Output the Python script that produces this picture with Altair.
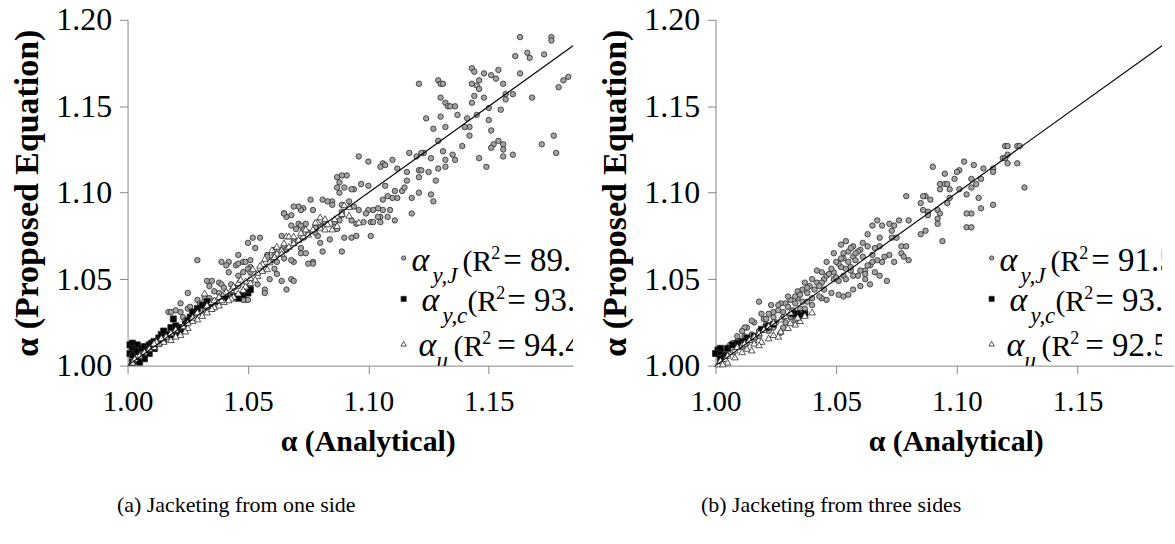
import altair as alt
import pandas as pd

# ---------------- data ----------------
# Panel (a): jacketing from one side
a_circ_x = [
    1.163, 1.176, 1.176, 1.161, 1.166, 1.167, 1.173, 1.163, 1.143, 1.144,
    1.148, 1.151, 1.154, 1.153, 1.156, 1.143, 1.146, 1.145, 1.146, 1.144,
    1.148, 1.121, 1.129, 1.130, 1.131, 1.130, 1.132, 1.133, 1.134, 1.136,
    1.143, 1.150, 1.155, 1.157, 1.157, 1.160, 1.168, 1.183, 1.181, 1.179,
    1.124, 1.130, 1.137, 1.141, 1.142, 1.145, 1.150, 1.140, 1.127, 1.132,
    1.151, 1.142, 1.129, 1.139, 1.154, 1.152, 1.156, 1.156, 1.151, 1.172,
    1.177, 1.178, 1.146, 1.149, 1.156, 1.160, 1.131, 1.135, 1.136, 1.132,
    1.129, 1.132, 1.126, 1.123, 1.122, 1.120, 1.117, 1.116, 1.112, 1.121,
    1.122, 1.125, 1.121, 1.116, 1.128, 1.118, 1.121, 1.126, 1.127, 1.118,
    1.110, 1.106, 1.105, 1.107, 1.100, 1.096, 1.107, 1.111, 1.114, 1.115,
    1.112, 1.110, 1.108, 1.106, 1.109, 1.106, 1.104, 1.102, 1.100, 1.105,
    1.108, 1.105, 1.111, 1.097, 1.100, 1.094, 1.093, 1.090, 1.091, 1.089,
    1.087, 1.088, 1.087, 1.088, 1.085, 1.083, 1.081, 1.085, 1.076, 1.077,
    1.073, 1.072, 1.071, 1.069, 1.065, 1.066, 1.065, 1.068, 1.071, 1.073,
    1.075, 1.068, 1.072, 1.074, 1.078, 1.080, 1.082, 1.086, 1.086, 1.089,
    1.089, 1.089, 1.092, 1.094, 1.096, 1.099, 1.101, 1.098, 1.104, 1.102,
    1.095, 1.093, 1.088, 1.087, 1.090, 1.093, 1.095, 1.101, 1.089, 1.081,
    1.084, 1.080, 1.079, 1.078, 1.073, 1.070, 1.064, 1.061, 1.061, 1.058,
    1.058, 1.064, 1.065, 1.066, 1.069, 1.072, 1.072, 1.074, 1.077, 1.077,
    1.075, 1.069, 1.068, 1.065, 1.062, 1.060, 1.061, 1.062, 1.064, 1.068,
    1.069, 1.066, 1.059, 1.057, 1.057, 1.054, 1.052, 1.055, 1.050, 1.053,
    1.046, 1.039, 1.042, 1.041, 1.045, 1.046, 1.048, 1.049, 1.051, 1.051,
    1.029, 1.050, 1.051, 1.046, 1.048, 1.042, 1.033, 1.035, 1.034, 1.036,
    1.038, 1.039, 1.040, 1.044, 1.046, 1.043, 1.047, 1.049, 1.050, 1.048,
    1.041, 1.039, 1.038, 1.032, 1.034, 1.029, 1.030, 1.025, 1.022, 1.025,
    1.026, 1.017, 1.018, 1.020, 1.022, 1.023, 1.032, 1.035,
    1.010, 1.013, 1.016, 1.020, 1.024, 1.027, 1.006,
]
a_circ_y = [
    1.190, 1.190, 1.188, 1.179, 1.181, 1.178, 1.180, 1.169, 1.172, 1.170,
    1.169, 1.168, 1.171, 1.166, 1.163, 1.163, 1.165, 1.162, 1.160, 1.156,
    1.155, 1.163, 1.165, 1.163, 1.163, 1.155, 1.152, 1.150, 1.150, 1.150,
    1.152, 1.149, 1.148, 1.157, 1.154, 1.157, 1.155, 1.167, 1.165, 1.161,
    1.143, 1.144, 1.145, 1.143, 1.138, 1.145, 1.142, 1.138, 1.137, 1.138,
    1.136, 1.133, 1.130, 1.127, 1.130, 1.128, 1.128, 1.125, 1.126, 1.128,
    1.133, 1.123, 1.120, 1.115, 1.121, 1.122, 1.124, 1.122, 1.119, 1.119,
    1.114, 1.115, 1.120, 1.123, 1.123, 1.121, 1.123, 1.112, 1.114, 1.113,
    1.113, 1.112, 1.109, 1.107, 1.107, 1.097, 1.100, 1.099, 1.095, 1.088,
    1.119, 1.117, 1.115, 1.116, 1.118, 1.121, 1.104, 1.101, 1.101, 1.103,
    1.097, 1.097, 1.098, 1.096, 1.090, 1.090, 1.091, 1.090, 1.090, 1.086,
    1.086, 1.083, 1.084, 1.105, 1.104, 1.102, 1.102, 1.103, 1.110, 1.110,
    1.109, 1.106, 1.103, 1.100, 1.095, 1.095, 1.096, 1.093, 1.096, 1.090,
    1.091, 1.090, 1.092, 1.092, 1.088, 1.086, 1.088, 1.087, 1.082, 1.079,
    1.077, 1.081, 1.081, 1.082, 1.080, 1.081, 1.083, 1.081, 1.083, 1.087,
    1.089, 1.093, 1.095, 1.092, 1.090, 1.088, 1.083, 1.083, 1.086, 1.083,
    1.082, 1.084, 1.084, 1.079, 1.074, 1.074, 1.075, 1.075, 1.066, 1.066,
    1.073, 1.071, 1.075, 1.077, 1.074, 1.079, 1.075, 1.067, 1.064, 1.064,
    1.063, 1.067, 1.069, 1.067, 1.072, 1.068, 1.065, 1.065, 1.060, 1.059,
    1.059, 1.060, 1.061, 1.062, 1.060, 1.061, 1.056, 1.053, 1.049, 1.050,
    1.049, 1.044, 1.050, 1.044, 1.042, 1.047, 1.074, 1.074, 1.071, 1.068,
    1.064, 1.060, 1.060, 1.058, 1.058, 1.059, 1.060, 1.060, 1.061, 1.057,
    1.061, 1.056, 1.054, 1.052, 1.054, 1.054, 1.049, 1.049, 1.046, 1.043,
    1.048, 1.047, 1.045, 1.045, 1.046, 1.047, 1.040, 1.038, 1.038, 1.038,
    1.041, 1.039, 1.042, 1.039, 1.039, 1.038, 1.036, 1.042, 1.036, 1.033,
    1.034, 1.031, 1.031, 1.032, 1.031, 1.028, 1.032, 1.034,
    1.010, 1.014, 1.018, 1.022, 1.026, 1.030, 1.006,
]
a_sq_x = [
    1.001, 1.002, 1.004, 1.002, 1.003, 1.001, 1.002, 1.004, 1.006, 1.007,
    1.009, 1.010, 1.008, 1.006, 1.004, 1.002, 1.011, 1.013, 1.014, 1.015,
    1.018, 1.019, 1.017, 1.015, 1.013, 1.011, 1.009, 1.020, 1.022, 1.024,
    1.026, 1.027, 1.029, 1.031, 1.033, 1.035, 1.037, 1.039, 1.041, 1.044,
    1.046, 1.048, 1.050, 1.051, 1.025, 1.022, 1.020, 1.018, 1.007, 1.005, 1.011,
]
a_sq_y = [
    1.012, 1.013, 1.012, 1.010, 1.009, 1.007, 1.006, 1.008, 1.010, 1.011,
    1.012, 1.013, 1.008, 1.005, 1.003, 1.002, 1.014, 1.016, 1.018, 1.020,
    1.022, 1.027, 1.018, 1.015, 1.013, 1.010, 1.007, 1.023, 1.020, 1.024,
    1.028, 1.031, 1.033, 1.035, 1.037, 1.034, 1.037, 1.039, 1.039, 1.040,
    1.039, 1.041, 1.042, 1.044, 1.026, 1.022, 1.019, 1.017, 1.004, 1.002, 1.010,
]
a_tri_x = [
    1.090, 1.092, 1.092, 1.096, 1.089, 1.087, 1.085, 1.083, 1.080, 1.079,
    1.080, 1.082, 1.077, 1.075, 1.073, 1.071, 1.069, 1.067, 1.066, 1.065,
    1.064, 1.062, 1.061, 1.059, 1.057, 1.056, 1.054, 1.053, 1.051, 1.049,
    1.048, 1.046, 1.044, 1.043, 1.042, 1.040, 1.038, 1.036, 1.035, 1.033,
    1.032, 1.031, 1.029, 1.027, 1.025, 1.024, 1.022, 1.020, 1.018, 1.015,
    1.013, 1.011, 1.009, 1.007, 1.005, 1.003, 1.002,
    1.067, 1.064, 1.058, 1.056, 1.054, 1.051, 1.049, 1.046, 1.043, 1.040,
    1.039, 1.037, 1.035, 1.033, 1.029, 1.027, 1.025, 1.023, 1.020, 1.018,
    1.016, 1.014, 1.012, 1.011,
    1.072, 1.074, 1.078, 1.082, 1.086, 1.069, 1.062, 1.060, 1.057, 1.055,
    1.052, 1.047, 1.044, 1.041, 1.038, 1.036,
]
a_tri_y = [
    1.093, 1.092, 1.087, 1.083, 1.088, 1.081, 1.079, 1.082, 1.086, 1.083,
    1.080, 1.079, 1.079, 1.076, 1.075, 1.073, 1.071, 1.069, 1.075, 1.071,
    1.067, 1.065, 1.063, 1.060, 1.057, 1.055, 1.052, 1.050, 1.048, 1.046,
    1.044, 1.042, 1.040, 1.039, 1.038, 1.037, 1.035, 1.034, 1.033, 1.031,
    1.042, 1.029, 1.027, 1.026, 1.022, 1.020, 1.018, 1.017, 1.015, 1.014,
    1.013, 1.011, 1.010, 1.008, 1.006, 1.004, 1.002,
    1.075, 1.065, 1.056, 1.059, 1.054, 1.051, 1.049, 1.048, 1.044, 1.042,
    1.038, 1.038, 1.037, 1.035, 1.031, 1.028, 1.025, 1.023, 1.021, 1.019,
    1.017, 1.016, 1.014, 1.013,
    1.077, 1.079, 1.083, 1.085, 1.085, 1.075, 1.069, 1.067, 1.062, 1.058,
    1.056, 1.050, 1.046, 1.043, 1.040, 1.038,
]

# Panel (b): jacketing from three sides
b_circ_x = [
    1.120, 1.121, 1.125, 1.126, 1.119, 1.120, 1.121, 1.121, 1.125, 1.128,
    1.115, 1.115, 1.111, 1.107, 1.103, 1.101, 1.100, 1.099, 1.095, 1.090,
    1.093, 1.095, 1.096, 1.093, 1.097, 1.101, 1.106, 1.106, 1.104, 1.108,
    1.110, 1.109, 1.110, 1.115, 1.106, 1.104, 1.104, 1.106, 1.097, 1.096,
    1.092, 1.093, 1.092, 1.092, 1.094, 1.088, 1.089, 1.087, 1.086, 1.085,
    1.086, 1.088, 1.087, 1.085, 1.079, 1.080, 1.076, 1.074, 1.072, 1.073,
    1.069, 1.067, 1.065, 1.063, 1.068, 1.068, 1.066, 1.073, 1.075, 1.077,
    1.079, 1.077, 1.078, 1.080, 1.074, 1.072, 1.070, 1.069, 1.067, 1.065,
    1.063, 1.060, 1.059, 1.057, 1.055, 1.053, 1.053, 1.057, 1.061, 1.064,
    1.062, 1.062, 1.064, 1.059, 1.056, 1.054, 1.052, 1.053, 1.051, 1.049,
    1.049, 1.049, 1.051, 1.046, 1.045, 1.044, 1.042, 1.042, 1.044, 1.046,
    1.041, 1.039, 1.038, 1.037, 1.036, 1.036, 1.034, 1.034, 1.033, 1.032,
    1.031, 1.030, 1.029, 1.028, 1.027, 1.026, 1.024, 1.023, 1.022, 1.019,
    1.018, 1.020, 1.016, 1.015, 1.013, 1.012, 1.011, 1.012, 1.009, 1.009,
    1.007, 1.006, 1.005, 1.003, 1.002, 1.015, 1.018, 1.021, 1.023, 1.025,
    1.027, 1.028, 1.031, 1.033, 1.035, 1.038, 1.040, 1.044, 1.046, 1.048,
    1.051, 1.053, 1.055, 1.057, 1.060, 1.062, 1.066, 1.068, 1.071, 1.045,
    1.043, 1.040, 1.037, 1.033, 1.029, 1.028, 1.024, 1.022, 1.018, 1.016,
    1.013, 1.011,
    1.050, 1.052, 1.055, 1.058, 1.056, 1.048, 1.047, 1.050, 1.054, 1.057,
    1.060, 1.063, 1.065, 1.058, 1.061, 1.054, 1.052, 1.056, 1.043, 1.040,
    1.038, 1.035, 1.033, 1.030, 1.026, 1.024, 1.021,
]
b_circ_y = [
    1.127, 1.127, 1.127, 1.127, 1.120, 1.120, 1.122, 1.117, 1.117, 1.103,
    1.114, 1.112, 1.114, 1.116, 1.118, 1.113, 1.112, 1.108, 1.111, 1.115,
    1.105, 1.105, 1.105, 1.102, 1.102, 1.102, 1.108, 1.103, 1.099, 1.105,
    1.108, 1.097, 1.091, 1.093, 1.088, 1.088, 1.080, 1.080, 1.097, 1.094,
    1.090, 1.088, 1.085, 1.082, 1.072, 1.089, 1.096, 1.098, 1.098, 1.094,
    1.090, 1.087, 1.078, 1.076, 1.098, 1.084, 1.084, 1.081, 1.082, 1.078,
    1.081, 1.084, 1.081, 1.076, 1.074, 1.069, 1.068, 1.074, 1.074, 1.069,
    1.069, 1.065, 1.063, 1.061, 1.060, 1.064, 1.063, 1.060, 1.061, 1.064,
    1.069, 1.067, 1.066, 1.069, 1.066, 1.065, 1.062, 1.063, 1.063, 1.058,
    1.055, 1.050, 1.047, 1.052, 1.055, 1.056, 1.057, 1.052, 1.049, 1.050,
    1.054, 1.065, 1.059, 1.060, 1.050, 1.054, 1.055, 1.048, 1.048, 1.052,
    1.044, 1.046, 1.042, 1.048, 1.044, 1.037, 1.043, 1.039, 1.036, 1.032,
    1.038, 1.040, 1.036, 1.031, 1.036, 1.035, 1.031, 1.035, 1.030, 1.030,
    1.037, 1.027, 1.025, 1.026, 1.022, 1.022, 1.020, 1.017, 1.017, 1.014,
    1.013, 1.012, 1.010, 1.008, 1.005, 1.018, 1.020, 1.024, 1.022, 1.025,
    1.019, 1.022, 1.028, 1.029, 1.033, 1.037, 1.039, 1.039, 1.038, 1.042,
    1.041, 1.040, 1.041, 1.044, 1.046, 1.053, 1.054, 1.052, 1.049, 1.044,
    1.040, 1.035, 1.033, 1.026, 1.025, 1.028, 1.022, 1.020, 1.017, 1.014,
    1.013, 1.011,
    1.060, 1.062, 1.060, 1.061, 1.057, 1.056, 1.053, 1.051, 1.050, 1.052,
    1.055, 1.058, 1.060, 1.065, 1.071, 1.072, 1.070, 1.068, 1.046, 1.050,
    1.045, 1.041, 1.040, 1.034, 1.032, 1.028, 1.027,
]
b_sq_x = [1.032, 1.034, 1.035, 1.037, 1.022, 1.021, 1.019, 1.016, 1.009, 1.001,
          1.000, 1.002, 1.002, 1.005, 1.007, 1.004, 1.002, 1.013, 1.011, 1.024]
b_sq_y = [1.030, 1.030, 1.029, 1.030, 1.023, 1.022, 1.021, 1.017, 1.013, 1.009,
          1.007, 1.008, 1.010, 1.010, 1.012, 1.006, 1.004, 1.016, 1.014, 1.024]
b_tri_x = [
    1.001, 1.002, 1.004, 1.005, 1.007, 1.008, 1.009, 1.011, 1.012, 1.014,
    1.016, 1.018, 1.020, 1.022, 1.024, 1.027, 1.029, 1.031, 1.011, 1.013,
    1.016, 1.019, 1.022, 1.024, 1.027, 1.030, 1.033, 1.035, 1.005, 1.008,
    1.003, 1.018, 1.015, 1.026, 1.031, 1.034, 1.037, 1.040,
]
b_tri_y = [
    1.001, 1.003, 1.004, 1.006, 1.008, 1.009, 1.011, 1.012, 1.013, 1.015,
    1.017, 1.019, 1.021, 1.023, 1.025, 1.027, 1.029, 1.031, 1.008, 1.010,
    1.013, 1.014, 1.016, 1.018, 1.020, 1.022, 1.024, 1.026, 1.002, 1.005,
    1.001, 1.012, 1.009, 1.017, 1.025, 1.028, 1.029, 1.031,
]

series_keys = ["yJ", "yc", "u"]
legend_subs = ["y,J", "y,c", "u"]
a_r2 = ["89.5%)", "93.8%)", "94.4%)"]
b_r2 = ["91.5%)", "93.0%)", "92.5%)"]
captions = ["(a) Jacketing from one side", "(b) Jacketing from three sides"]
x_ticks = [1.00, 1.05, 1.10, 1.15]
y_ticks = [1.00, 1.05, 1.10, 1.15, 1.20]
x_domain = [1.0, 1.185]
y_domain = [1.0, 1.2]
line_pts = [1.0, 1.185]

# ---------------- styling ----------------
FONT = "Liberation Serif"
H = 347
AXIS_GRAY = "#868686"
FILLS = ["#a3a3a3", "#000000", "#ffffff"]
SHAPES = ["circle", "square", "triangle-up"]
SIZES = [30, 45, 50]


def frame(cx, cy, sx, sy, tx, ty):
    rows = []
    for k, xs, ys in [("yJ", cx, cy), ("yc", sx, sy), ("u", tx, ty)]:
        rows += [{"s": k, "x": a, "y": b} for a, b in zip(xs, ys)]
    return pd.DataFrame(rows)


def one(t):
    return pd.DataFrame({"t": [t]})


def panel(df, r2s, caption, width, cap_x, axis_ext=0):
    xsc = alt.Scale(domain=x_domain, nice=False, zero=False)
    ysc = alt.Scale(domain=y_domain, nice=False, zero=False)
    xenc = alt.X("x:Q", scale=xsc, axis=alt.Axis(
        values=x_ticks, format=".2f", title="α (Analytical)",
        titleX=241, titleY=76, titleBaseline="middle", titleAlign="center"))
    yenc = alt.Y("y:Q", scale=ysc, axis=alt.Axis(
        values=y_ticks, format=".2f", title="α (Proposed Equation)",
        titleAngle=270, titleX=-100, titleY=H / 2,
        titleBaseline="middle", titleAlign="center"))

    pts = alt.Chart(df).mark_point(filled=True, strokeWidth=0.8, opacity=1,
                                   stroke="#2a2a2a").encode(
        x=xenc, y=yenc,
        shape=alt.Shape("s:N", scale=alt.Scale(domain=series_keys, range=SHAPES), legend=None),
        fill=alt.Fill("s:N", scale=alt.Scale(domain=series_keys, range=FILLS), legend=None),
        size=alt.Size("s:N", scale=alt.Scale(domain=series_keys, range=SIZES), legend=None),
    )
    line = alt.Chart(pd.DataFrame({"x": line_pts, "y": line_pts})).mark_line(
        color="black", strokeWidth=1.1, clip=True).encode(x=xenc, y=yenc)

    layers = [pts, line]
    if axis_ext:
        layers.append(alt.Chart(one("")).mark_rule(color=AXIS_GRAY, strokeWidth=1).encode(
            x=alt.value(width), x2=alt.value(width + axis_ext), y=alt.value(H + 0.5)))

    rows = [
        dict(mx=277, my=239, ax=285, base=252, subx=306, parx=336, eqx=377),
        dict(mx=277, my=280, ax=295, base=292, subx=316, parx=341, eqx=381),
        dict(mx=277, my=325, ax=292, base=337, subx=310, parx=327, eqx=371),
    ]
    leg_sizes = [18, 26, 30]
    for i, r in enumerate(rows):
        layers.append(alt.Chart(one("")).mark_point(
            shape=SHAPES[i], filled=True, fill=FILLS[i], stroke="#2a2a2a",
            strokeWidth=0.8, size=leg_sizes[i], opacity=1).encode(
            x=alt.value(r["mx"]), y=alt.value(r["my"])))
        pieces = [
            ("α", r["ax"], r["base"], 34, "italic"),
            (legend_subs[i], r["subx"], r["base"] + 12, 23, "italic"),
            ("(R", r["parx"], r["base"], 30, "normal"),
            ("2", r["parx"] + 29, r["base"] - 12, 18, "normal"),
            ("= " + r2s[i], r["eqx"], r["base"], 33, "normal"),
        ]
        for t, px, py, fs, st in pieces:
            layers.append(alt.Chart(one(t)).mark_text(
                align="left", baseline="alphabetic", font=FONT, fontSize=fs,
                fontStyle=st, color="black", clip=True).encode(
                x=alt.value(px), y=alt.value(py), text="t:N"))

    layers.append(alt.Chart(one(caption)).mark_text(
        align="center", baseline="middle", font=FONT, fontSize=22,
        color="black").encode(x=alt.value(cap_x), y=alt.value(487), text="t:N"))

    return alt.layer(*layers).properties(width=width, height=H)


pa = panel(frame(a_circ_x, a_circ_y, a_sq_x, a_sq_y, a_tri_x, a_tri_y),
           a_r2, captions[0], 447, 109)
pb = panel(frame(b_circ_x, b_circ_y, b_sq_x, b_sq_y, b_tri_x, b_tri_y),
           b_r2, captions[1], 448, 116, axis_ext=12)

chart = alt.hconcat(pa, pb, spacing=26).properties(
    padding={"left": 11, "top": 3, "right": 0, "bottom": 0}
).configure_view(stroke=None).configure_axis(
    grid=False,
    domainColor=AXIS_GRAY, domainWidth=1,
    tickColor=AXIS_GRAY, tickSize=8, tickWidth=1,
    labelFont=FONT, labelFontSize=29, labelColor="black",
    labelPadding=8, labelFlush=False, labelOverlap=False,
    titleFont=FONT, titleFontSize=30, titleFontWeight="bold", titleColor="black",
).configure_axisX(labelPadding=14).configure_axisY(titleFontSize=34, labelFontSize=32)

chart.save("out.html", embed_options={"renderer": "svg", "actions": False})
